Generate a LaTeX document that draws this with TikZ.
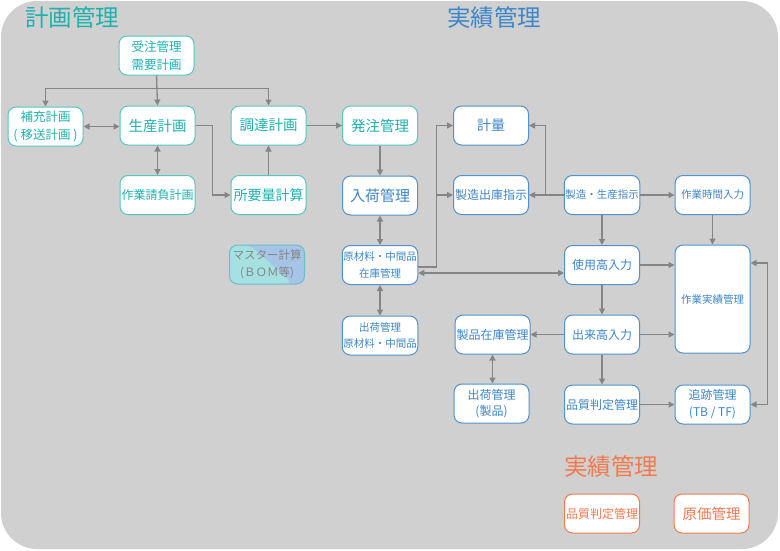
\documentclass[tikz,border=0pt]{standalone}
\usepackage{fontspec}
\setmainfont{Noto Sans CJK JP}
\usepackage{tikz}
\usetikzlibrary{positioning,arrows.meta}
\definecolor{bggray}{HTML}{D0D0D0}
\definecolor{plnteal}{HTML}{1FB1AE}
\definecolor{actblue}{HTML}{3D86C8}
\definecolor{cstorange}{HTML}{F37A4E}
\definecolor{linegray}{HTML}{858585}
\definecolor{mstteal}{HTML}{A6E1E1}
\definecolor{mstblue}{HTML}{A6C4E6}

\begin{document}
\begin{tikzpicture}[x=1pt, y=-1pt,
    box/.style={draw, fill=white, rounded corners=8pt, line width=1pt, minimum width=75pt, minimum height=39pt, inner sep=1pt, align=center},
    pbox/.style={box, draw=plnteal!75, text=plnteal},
    abox/.style={box, draw=actblue!90, text=actblue},
    cbox/.style={box, draw=cstorange, text=cstorange},
    fs/.style 2 args={font=\fontsize{#1}{#2}\selectfont},
    title/.style={anchor=west, inner sep=0pt, font=\fontsize{23.5}{28}\selectfont},
    arr/.style={draw=linegray, line width=1.3pt, -{Triangle[length=6pt,width=6pt]}},
    darr/.style={arr, {Triangle[length=6pt,width=6pt]}-{Triangle[length=6pt,width=6pt]}}]

    % Background
    \fill[bggray, rounded corners=36pt] (1,1) rectangle (778,549);
    \useasboundingbox (0,0) rectangle (780,550);

    % Titles
    \node[title, text=plnteal] (ttlplan) at (25,18) {計画管理};
    \node[title, text=actblue] (ttlact) at (447,18) {実績管理};
    \node[title, text=cstorange] (ttlcost) at (564,467) {実績管理};

    % Planning
    \node[pbox, fs={12.5}{18}] (juchu) at (156.5,55.5) {受注管理\\需要計画};
    \node[pbox, fs={12.5}{18}] (hoju) at (45.5,126.5) {補充計画\\( 移送計画 )};
    \node[pbox, fs={14.5}{18}] (seisan) at (157.5,125.5) {生産計画};
    \node[pbox, fs={14.5}{18}] (chotatsu) at (268.5,125.5) {調達計画};
    \node[pbox, fs={14.5}{18}] (hatchu) at (380,125.5) {発注管理};
    \node[pbox, fs={12}{18}] (ukeoi) at (157.5,195) {作業請負計画};
    \node[pbox, fs={14}{18}] (shoyo) at (268.5,195) {所要量計算};
    \node[box, draw=plnteal!60!actblue!70, text=black!48, fs={11.5}{17},
        path picture={
            \fill[mstblue] (path picture bounding box.north west) rectangle (path picture bounding box.south east);
            \fill[mstteal] (path picture bounding box.north west) -- ([xshift=-17pt]path picture bounding box.north)
                -- ([xshift=26pt]path picture bounding box.south) -- (path picture bounding box.south west) -- cycle;
        }] (master) at (267,264.5) {マスター計算\\(ＢＯＭ等)};

    % Actual
    \node[abox, fs={14}{18}] (keiryo) at (491,125.5) {計量};
    \node[abox, fs={15}{18}] (nyuka) at (380,195.5) {入荷管理};
    \node[abox, fs={12}{18}] (shukko) at (491,195) {製造出庫指示};
    \node[abox, fs={10.5}{18}] (seizo) at (602,195) {製造・生産指示};
    \node[abox, fs={10.5}{18}] (jikan) at (712.5,195) {作業時間入力};
    \node[abox, fs={10.5}{17}] (zaiko) at (380,265) {原材料・中間品\\在庫管理};
    \node[abox, fs={12}{18}] (shiyo) at (602,265) {使用高入力};
    \node[abox, fs={10.5}{18}, minimum height=108pt] (jisseki) at (712.5,299) {作業実績管理};
    \node[abox, fs={10.5}{16.5}] (shukkazai) at (380,335.5) {出荷管理\\原材料・中間品};
    \node[abox, fs={12}{18}] (seihin) at (492.5,334.5) {製品在庫管理};
    \node[abox, fs={12}{18}] (dekidaka) at (602,334.5) {出来高入力};
    \node[abox, fs={12}{16.5}] (shukkasei) at (491.5,403.5) {出荷管理\\(製品)};
    \node[abox, fs={12}{18}] (hinshitsu) at (602,404.5) {品質判定管理};
    \node[abox, fs={12}{17}] (tsuiseki) at (712.5,404.5) {追跡管理\\(TB / TF)};

    % Cost
    \node[cbox, fs={12}{18}] (hinshitsuc) at (602,513.5) {品質判定管理};
    \node[cbox, fs={14.5}{18}] (genka) at (711.5,513.5) {原価管理};

    % Planning connectors
    \draw[arr] (juchu.south) -- (seisan.north);
    \draw[arr] (juchu.south) -- ++(0,13) -| (hoju.north);
    \draw[arr] (juchu.south) -- ++(0,13) -| (chotatsu.north);
    \draw[darr] (hoju.east) -- (hoju.east -| seisan.west);
    \draw[darr] (seisan.south) -- (ukeoi.north);
    \draw[arr] (seisan.east) -- ++(17,0) |- (shoyo.west);
    \draw[arr] (shoyo.north) -- (chotatsu.south);
    \draw[arr] (chotatsu.east) -- (hatchu.west);

    % Actual connectors
    \draw[arr] (hatchu.south) -- (nyuka.north);
    \draw[darr] (nyuka.south) -- (zaiko.north);
    \draw[darr] (zaiko.south) -- (shukkazai.north);
    \draw[arr] ([yshift=-2pt]zaiko.east) -- ++(18,0) |- (keiryo.west);
    \draw[arr] ([yshift=-2pt]zaiko.east) -- ++(18,0) |- (shukko.west);
    \draw[darr] ([yshift=-8pt]zaiko.east) -- ([yshift=-8pt]shiyo.west);
    \draw[arr] (seizo.west) -- (shukko.east);
    \draw[arr] (seizo.west) -- ++(-18,0) |- (keiryo.east);
    \draw[arr] (seizo.east) -- (jikan.west);
    \draw[arr] (seizo.south) -- (shiyo.north);
    \draw[arr] (jikan.south) -- (jisseki.north);
    \draw[arr] (shiyo.east) -- (shiyo.east -| jisseki.west);
    \draw[arr] (shiyo.south) -- (dekidaka.north);
    \draw[arr] (dekidaka.west) -- (seihin.east);
    \draw[arr] (dekidaka.east) -- (dekidaka.east -| jisseki.west);
    \draw[darr] (seihin.south) -- (seihin.south |- shukkasei.north);
    \draw[arr] (dekidaka.south) -- (hinshitsu.north);
    \draw[arr] (hinshitsu.east) -- (tsuiseki.west);
    \draw[darr] ([yshift=36pt]jisseki.east) -- ++(17,0) |- (tsuiseki.east);
\end{tikzpicture}
\end{document}
